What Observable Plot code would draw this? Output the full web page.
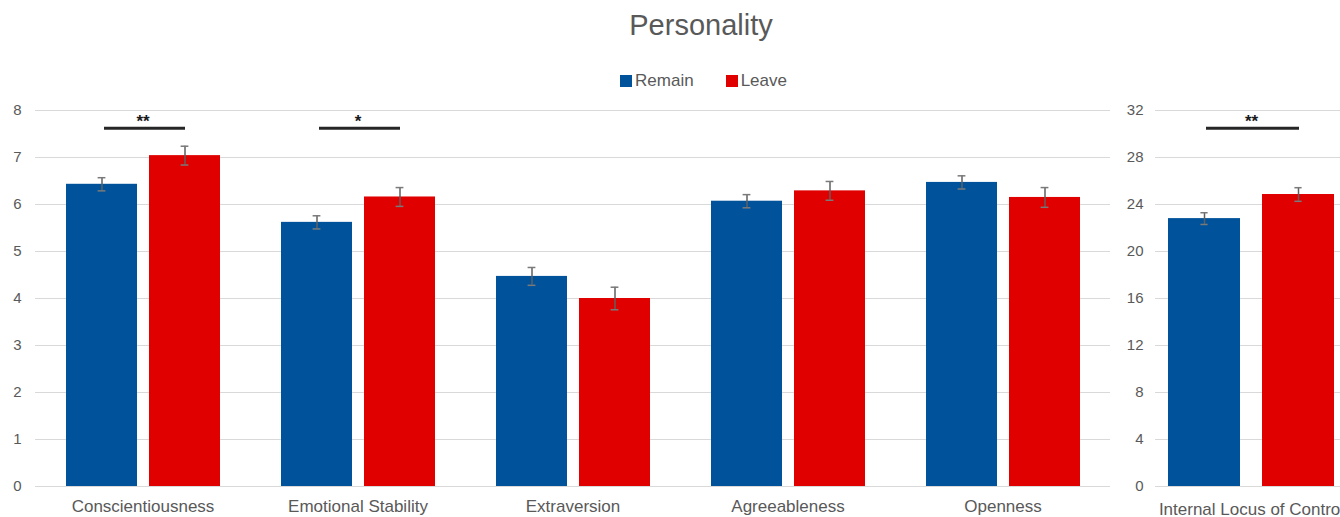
<!DOCTYPE html>
<html><head><meta charset="utf-8">
<script src="https://cdn.jsdelivr.net/npm/d3@7"></script>
<script src="https://cdn.jsdelivr.net/npm/@observablehq/plot@0.6"></script>
<style>
body{margin:0;background:#fff;font-family:"Liberation Sans",Arial,sans-serif;overflow:hidden;}
#wrap{position:relative;width:1340px;height:517px;overflow:hidden;}
#title{position:absolute;top:8px;left:0;width:1402px;text-align:center;font-size:29px;line-height:34px;color:#595959;}
#legend{position:absolute;top:70px;left:0;width:1407px;display:flex;justify-content:center;align-items:center;font-size:17px;line-height:22px;color:#595959;}
#legend .item{display:flex;align-items:center;margin:0 16px;}
#legend .sw{width:12px;height:12px;margin-right:3px;}
#plots{position:absolute;top:95px;left:0;display:flex;flex-wrap:nowrap;width:1340px;overflow:hidden;}
#plots svg{flex-shrink:0;display:block;}
</style>
</head><body>
<div id="wrap">
  <div id="title">Personality</div>
  <div id="legend"></div>
  <div id="plots"></div>
</div>
<script>
// ---- data ----
const categories = ["Conscientiousness", "Emotional Stability", "Extraversion", "Agreeableness", "Openness"];
const series = ["Remain", "Leave"];
const seriesColors = ["#00539B", "#E00000"];
const remainMeans = [6.43, 5.62, 4.47, 6.07, 6.47];
const remainErr = [0.14, 0.14, 0.19, 0.14, 0.14];
const leaveMeans = [7.04, 6.16, 4.00, 6.29, 6.15];
const leaveErr = [0.20, 0.20, 0.24, 0.20, 0.21];
const leftTicks = [0, 1, 2, 3, 4, 5, 6, 7, 8];

const locCategories = ["Internal Locus of Control"];
const locRemainMeans = [22.8];
const locRemainErr = [0.5];
const locLeaveMeans = [24.85];
const locLeaveErr = [0.58];
const rightTicks = [0, 4, 8, 12, 16, 20, 24, 28, 32];

const sigCategories = ["Conscientiousness", "Emotional Stability"];
const sigLevels = [7.62, 7.62];
const sigLabels = ["**", "*"];
const locSigCategories = ["Internal Locus of Control"];
const locSigLevels = [30.5];
const locSigLabels = ["**"];

// ---- build tables ----
function rowsFrom(cats, rm, re, lm, le) {
  const rows = [];
  cats.forEach((c, i) => {
    rows.push({category: c, series: "Remain", value: rm[i], err: re[i]});
    rows.push({category: c, series: "Leave", value: lm[i], err: le[i]});
  });
  return rows;
}
function sigFrom(cats, levels, labels) {
  return cats.map((c, i) => ({category: c, level: levels[i], label: labels[i], from: "Remain", to: "Leave"}));
}
const leftRows = rowsFrom(categories, remainMeans, remainErr, leaveMeans, leaveErr);
const rightRows = rowsFrom(locCategories, locRemainMeans, locRemainErr, locLeaveMeans, locLeaveErr);
const leftSig = sigFrom(sigCategories, sigLevels, sigLabels);
const rightSig = sigFrom(locSigCategories, locSigLevels, locSigLabels);

// legend
const legend = document.getElementById("legend");
series.forEach((s, i) => {
  const it = document.createElement("div");
  it.className = "item";
  it.innerHTML = `<span class="sw" style="background:${seriesColors[i]}"></span><span>${s}</span>`;
  legend.appendChild(it);
});

function panel({rows, sig, cats, yDomain, ticks, width, marginLeft, marginRight, yPad, fxPad, xOpts, capInset}) {
  const svg = Plot.plot({
    width, height: 422,
    marginTop: 15, marginBottom: 31, marginLeft, marginRight,
    style: {fontFamily: '"Liberation Sans", Arial, sans-serif', fontSize: "15px", color: "#595959", background: "transparent"},
    fx: {domain: cats, padding: 0, axis: "bottom", label: null, tickSize: 0, tickPadding: fxPad},
    x: {domain: series, axis: null, ...xOpts},
    y: {domain: yDomain, ticks, tickSize: 0, tickPadding: yPad, label: null, tickFormat: d => String(d)},
    color: {domain: series, range: seriesColors},
    marks: [
      Plot.gridY(ticks, {stroke: "#d9d9d9", strokeOpacity: 1, strokeWidth: 1}),
      Plot.barY(rows, {fx: "category", x: "series", y: "value", fill: "series"}),
      Plot.ruleX(rows, {fx: "category", x: "series", y1: d => d.value - d.err, y2: d => d.value + d.err, stroke: "#5f5f5f", strokeWidth: 1.5}),
      Plot.tickY(rows, {fx: "category", x: "series", y: d => d.value - d.err, stroke: "#7a7a7a", strokeWidth: 1.5, insetLeft: capInset, insetRight: capInset}),
      Plot.tickY(rows, {fx: "category", x: "series", y: d => d.value + d.err, stroke: "#7a7a7a", strokeWidth: 1.5, insetLeft: capInset, insetRight: capInset}),
      Plot.ruleY(sig, {fx: "category", y: "level", x1: "from", x2: "to", stroke: "#262626", strokeWidth: 3, insetLeft: 38, insetRight: 35}),
      Plot.text(sig, {fx: "category", y: "level", text: "label", dy: -7, fontSize: 17, fontWeight: "bold", fill: "#1a1a1a"})
    ]
  });
  d3.select(svg).selectAll('[aria-label^="fx-axis"] text').attr("font-size", 17).style("font-size", "17px");
  return svg;
}

const plots = document.getElementById("plots");
plots.appendChild(panel({
  rows: leftRows, sig: leftSig, cats: categories, yDomain: [0, 8], ticks: leftTicks,
  width: 1112, marginLeft: 34, marginRight: 2, yPad: 14, fxPad: 13,
  xOpts: {paddingInner: 0.145, paddingOuter: 0.36}, capInset: 31.6
}));
plots.appendChild(panel({
  rows: rightRows, sig: rightSig, cats: locCategories, yDomain: [0, 32], ticks: rightTicks,
  width: 235, marginLeft: 43, marginRight: 0, yPad: 12, fxPad: 16,
  xOpts: {paddingInner: 0.23, paddingOuter: 0.126}, capInset: 32.4
}));
</script>
</body></html>
